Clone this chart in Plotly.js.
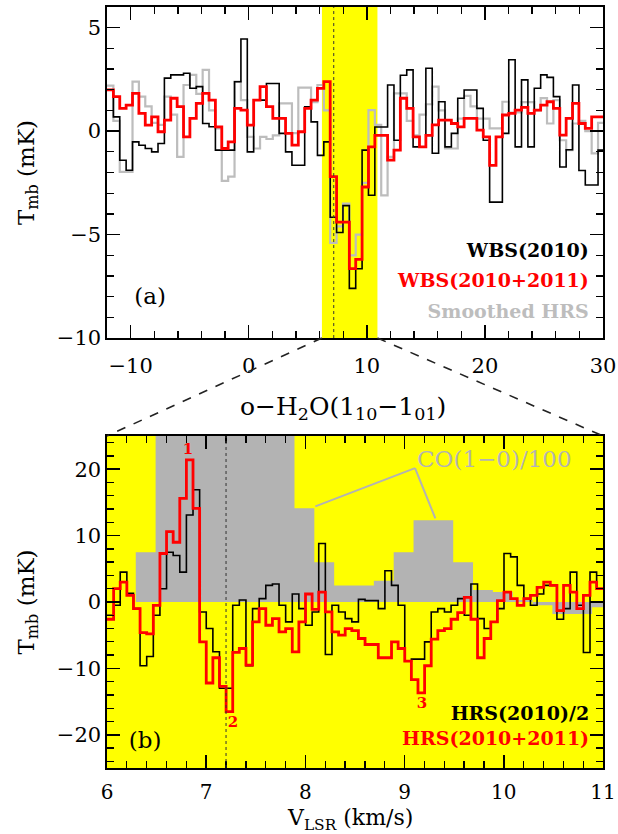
<!DOCTYPE html>
<html><head><meta charset="utf-8">
<script src="https://cdn.plot.ly/plotly-3.0.1.min.js"></script>
<style>body{margin:0;background:#fff}#p{width:618px;height:834px}</style>
</head><body><div id="p"></div>
<script>
// ---- Panel (a): WBS spectra, channels starting at -12 km/s ----
const wbsStart = -12;      // km/s, left edge of first channel
const wbsWidth = 0.54;     // km/s per channel
const wbs2010 = [1.99,0.69,-1.41,-1.89,-0.52,-0.68,-0.84,-1.0,-0.6,2.56,
  2.72,2.72,2.8,2.07,2.15,0.37,0.21,-0.92,-0.92,-0.92,
  2.39,4.45,-1.0,1.5,1.5,2.3,2.3,-0.11,-1.0,-1.65,
  -1.65,1.18,0.45,-1.17,-0.52,-4.16,-4.9,-3.6,-7.6,-6.65,
  -0.92,-3.1,0.2,0.2,2.23,-0.44,2.7,2.96,-0.76,-0.76,
  3.04,-1.07,1.42,-0.76,-0.11,1.59,1.99,1.99,1.1,-0.44,
  -3.43,-3.43,-0.11,3.45,-0.76,2.48,-0.76,2.07,2.72,2.6,
  1.67,-1.73,-0.9,2.23,-1.9,-2.6,-2.6,-0.92];
const wbs20102011 = [1.99,1.67,1.10,1.26,1.83,0.86,0.29,0.69,-0.03,0.53,
  1.59,1.18,-0.28,0.62,1.34,1.83,1.5,0.21,-0.84,-0.52,
  1.10,1.02,0.29,1.5,2.15,1.18,0.62,0.62,-0.11,-0.68,
  -0.03,1.10,1.5,2.07,2.39,-2.2,-4.4,-4.4,-6.65,-6.2,
  -2.7,-0.76,-0.2,-0.2,-1.4,-0.92,1.59,1.10,-0.28,-0.76,
  -0.2,0.3,0.53,0.53,0.37,0.21,0.62,0.62,0.05,-0.28,
  -1.65,-0.28,0.78,0.86,1.02,1.15,0.86,1.02,1.26,1.42,
  1.1,-0.19,0.62,1.34,0.37,0.13,0.69,0.69];
const smoothedHRS = [2.2,0.5,-1.97,-1.97,2.39,1.67,1.2,0.4,0.3,1.67,
  0.8,-1.24,2.23,2.72,1.8,2.96,1.0,0.13,-2.4,-2.2,
  2.39,1.5,-0.28,-0.84,-0.28,-0.38,-0.2,1.34,1.34,-0.1,
  2.1,2.1,1.4,2.23,1.0,-5.4,-4.6,-3.5,-6.0,-5.0,
  -2.5,1.02,0.3,-3.1,-1.24,1.83,1.83,0.5,-0.2,0.8,
  1.3,2.15,1.0,-0.84,-0.84,0.6,1.7,1.2,0.6,0.6,
  0.13,0.13,1.42,0.9,0.9,1.4,1.4,1.0,1.6,0.37,
  1.5,-0.44,-0.92,0.37,0.5,0.0,-1.07,0.4];

// ---- Panel (b): HRS spectra, channels starting at 6 km/s ----
const hrsStart = 6.0;
const hrsWidth = 0.0667;
const hrs2010half = [-2.0,-0.5,4.5,1.3,-1.0,-9.6,-8.2,-2.0,2.0,7.5,
  7.0,4.5,13.1,16.9,-1.5,-4.0,-7.5,-13.0,-13.0,-0.5,
  0.3,-9.6,-1.0,0.5,2.5,2.7,-0.5,-3.0,1.2,-1.0,
  -3.5,-1.5,8.8,-7.9,-0.5,-1.5,-2.5,-3.0,0.4,0.2,
  0.2,-1.0,4.7,2.5,-0.5,-8.9,-8.6,-8.6,-6.0,-1.5,
  -1.0,-1.5,-0.5,0.5,-2.0,2.7,-2.5,-4.0,-3.0,-1.0,
  7.3,6.8,2.5,0.5,-0.5,1.2,2.5,2.5,-2.6,-1.0,
  4.5,-0.5,-7.6,4.5,2.0];
const hrs20102011 = [-2.6,2.0,3.0,1.0,-1.0,-4.6,-4.8,-0.5,7.3,10.6,
  9.0,15.6,21.4,14.1,-6.0,-12.2,-8.4,-12.7,-16.5,-7.6,
  -7.0,-9.5,-3.0,-1.0,-3.5,-2.5,-4.5,-4.0,-7.5,-3.0,
  1.2,-1.1,1.5,-1.5,-4.5,-5.0,-4.0,-4.3,-5.5,-6.4,
  -6.4,-8.4,-8.4,-6.0,-7.0,-8.9,-11.7,-13.7,-9.6,-5.6,
  -4.3,-4.0,-2.6,-1.6,0.7,-2.6,-8.4,-5.5,-3.0,0.2,
  1.5,0.5,-0.5,0.5,1.0,2.2,3.0,2.5,-1.3,2.5,
  1.5,-1.0,1.0,3.0,2.0];
// CO(1-0)/100, coarse channels
const coStart = 5.89;
const coWidth = 0.2;
const co10div100 = [0,0,7.5,60,60,80,80,60,45,30,
  14.1,6.0,2.5,2.5,3.2,7.5,12.3,12.3,6.0,1.8,
  1.5,0.3,-0.5,-1.8,-1.8,-0.8];

// ---- text labels (positions in axis units) ----
const legendA = ["WBS(2010)","WBS(2010+2011)","Smoothed HRS"];
const legendAColors = ["#000000","#ff0000","#bdbdbd"];
const legendAx = 28.8;
const legendAy = [-5.84, -7.3, -8.79];
const legendB = ["HRS(2010)/2","HRS(2010+2011)"];
const legendBColors = ["#000000","#ff0000"];
const legendBx = 10.86;
const legendBy = [-17.0, -20.8];
const peakLabels = ["1","2","3"];
const peakV = [6.817, 7.27, 9.175];
const peakT = [22.9, -18.2, -15.4];
const panelTags = ["(a)","(b)"];
const bandV = [6.2, 10.9];
const vSys = 7.2;

function step(arr){ return arr.concat([arr[arr.length-1]]); }
const F = "DejaVu Serif";

const traces = [
  {x0: wbsStart, dx: wbsWidth, y: step(smoothedHRS), xaxis:'x', yaxis:'y', mode:'lines',
   line:{shape:'hv', color:'#bdbdbd', width:2.2}},
  {x0: wbsStart, dx: wbsWidth, y: step(wbs2010), xaxis:'x', yaxis:'y', mode:'lines',
   line:{shape:'hv', color:'#000', width:1.6}},
  {x0: wbsStart, dx: wbsWidth, y: step(wbs20102011), xaxis:'x', yaxis:'y', mode:'lines',
   line:{shape:'hv', color:'#ff0000', width:2.8}},
  {x0: coStart, dx: coWidth, y: step(co10div100), xaxis:'x2', yaxis:'y2', mode:'lines',
   line:{shape:'hv', color:'#b3b3b3', width:0}, fill:'tozeroy', fillcolor:'#b3b3b3'},
  {x0: hrsStart, dx: hrsWidth, y: step(hrs2010half), xaxis:'x2', yaxis:'y2', mode:'lines',
   line:{shape:'hv', color:'#000', width:1.6}},
  {x0: hrsStart, dx: hrsWidth, y: step(hrs20102011), xaxis:'x2', yaxis:'y2', mode:'lines',
   line:{shape:'hv', color:'#ff0000', width:2.8}},
  // text labels
  {x: legendAy.map(()=>legendAx), y: legendAy, text: legendA, mode:'text', xaxis:'x', yaxis:'y',
   textposition:'middle left', cliponaxis:false,
   textfont:{family:F, size:19, weight:'bold', color:legendAColors}},
  {x: [-8.35], y: [-8.06], text: [panelTags[0]], mode:'text', xaxis:'x', yaxis:'y',
   textposition:'middle center', textfont:{family:F, size:23, color:'#000'}},
  {x: legendBy.map(()=>legendBx), y: legendBy, text: legendB, mode:'text', xaxis:'x2', yaxis:'y2',
   textposition:'middle left', cliponaxis:false,
   textfont:{family:F, size:19, weight:'bold', color:legendBColors}},
  {x: [6.385], y: [-21.1], text: [panelTags[1]], mode:'text', xaxis:'x2', yaxis:'y2',
   textposition:'middle center', textfont:{family:F, size:23, color:'#000'}},
  {x: [9.125], y: [21.2], text: ['CO(1−0)/100'], mode:'text', xaxis:'x2', yaxis:'y2',
   textposition:'middle right', cliponaxis:false, textfont:{family:F, size:23, color:'#b3b3b3'}},
  {x: peakV, y: peakT, text: peakLabels, mode:'text', xaxis:'x2', yaxis:'y2',
   textposition:'middle center', cliponaxis:false,
   textfont:{family:F, size:15, weight:'bold', color:'#ff0000'}}
];

const axCommon = {showline:true, linecolor:'#000', linewidth:1.6, mirror:'allticks',
  ticks:'inside', ticklen:13, tickwidth:1.5, tickcolor:'#000', zeroline:false, showgrid:false,
  tickfont:{family:F, size:21, color:'#000'}};

const layout = {
  width:618, height:834, showlegend:false, hovermode:false,
  margin:{l:107, r:15, t:7, b:66},
  paper_bgcolor:'#fff', plot_bgcolor:'rgba(0,0,0,0)',
  xaxis: Object.assign({}, axCommon, {domain:[0,1], anchor:'y', range:[-12,30], tick0:0, dtick:10,
    ticklabelstandoff:8,
    minor:{dtick:2, ticks:'inside', ticklen:7, tickwidth:1.3, tickcolor:'#000'}}),
  yaxis: Object.assign({}, axCommon, {domain:[0.565,1], anchor:'x', range:[-10,6], tick0:0, dtick:5,
    minor:{dtick:1, ticks:'inside', ticklen:7, tickwidth:1.3, tickcolor:'#000'},
    title:{text:'T<sub>mb</sub> (mK)', font:{family:F, size:23, color:'#000'}, standoff:16}}),
  xaxis2: Object.assign({}, axCommon, {domain:[0,1], anchor:'y2', range:[6,11], tick0:6, dtick:1,
    ticklabelstandoff:5, tickfont:{family:F, size:20, color:'#000'},
    minor:{dtick:0.2, ticks:'inside', ticklen:7, tickwidth:1.3, tickcolor:'#000'}}),
  yaxis2: Object.assign({}, axCommon, {domain:[0,0.4363], anchor:'x2', range:[-25,25], tick0:0, dtick:10,
    minor:{dtick:2, ticks:'inside', ticklen:7, tickwidth:1.3, tickcolor:'#000'},
    title:{text:'T<sub>mb</sub> (mK)', font:{family:F, size:23, color:'#000'}, standoff:16}}),
  shapes:[
    {type:'rect', layer:'below', xref:'x', yref:'y domain', x0:bandV[0], x1:bandV[1], y0:0, y1:1,
     fillcolor:'#ffff00', line:{width:0}},
    {type:'line', layer:'above', xref:'x', yref:'y domain', x0:vSys, x1:vSys, y0:0, y1:1,
     line:{color:'#333', width:1, dash:'dot'}},
    {type:'rect', layer:'below', xref:'x2 domain', yref:'y2 domain', x0:0, x1:1, y0:0, y1:1,
     fillcolor:'#ffff00', line:{width:0}},
    {type:'line', layer:'above', xref:'x2', yref:'y2 domain', x0:vSys, x1:vSys, y0:0, y1:1,
     line:{color:'#333', width:1, dash:'dot'}},
    {type:'line', xref:'x', yref:'paper', x0:bandV[0], y0:0.565, x1:-12, y1:0.4363,
     line:{color:'#222', width:1.6, dash:'dash'}},
    {type:'line', xref:'x', yref:'paper', x0:bandV[1], y0:0.565, x1:30, y1:0.4363,
     line:{color:'#222', width:1.6, dash:'dash'}},
    {type:'line', xref:'x2', yref:'y2', x0:9.105, y0:20.15, x1:8.1, y1:14.4,
     line:{color:'#b3b3b3', width:2}},
    {type:'line', xref:'x2', yref:'y2', x0:9.105, y0:20.15, x1:9.31, y1:12.6,
     line:{color:'#b3b3b3', width:2}}
  ],
  annotations:[
    {xref:'paper', yref:'paper', x:0.476, y:0.473, xanchor:'center', yanchor:'middle', showarrow:false,
     text:'o−H<sub>2</sub>O(1<sub>10</sub>−1<sub>01</sub>)', font:{family:F, size:25, color:'#000'}},
    {xref:'paper', yref:'paper', x:0.49, y:-0.068, xanchor:'center', yanchor:'middle', showarrow:false,
     text:'V<sub>LSR</sub> (km/s)', font:{family:F, size:22, color:'#000'}}
  ]
};

Plotly.newPlot('p', traces, layout, {staticPlot:true, displayModeBar:false});
</script></body></html>
